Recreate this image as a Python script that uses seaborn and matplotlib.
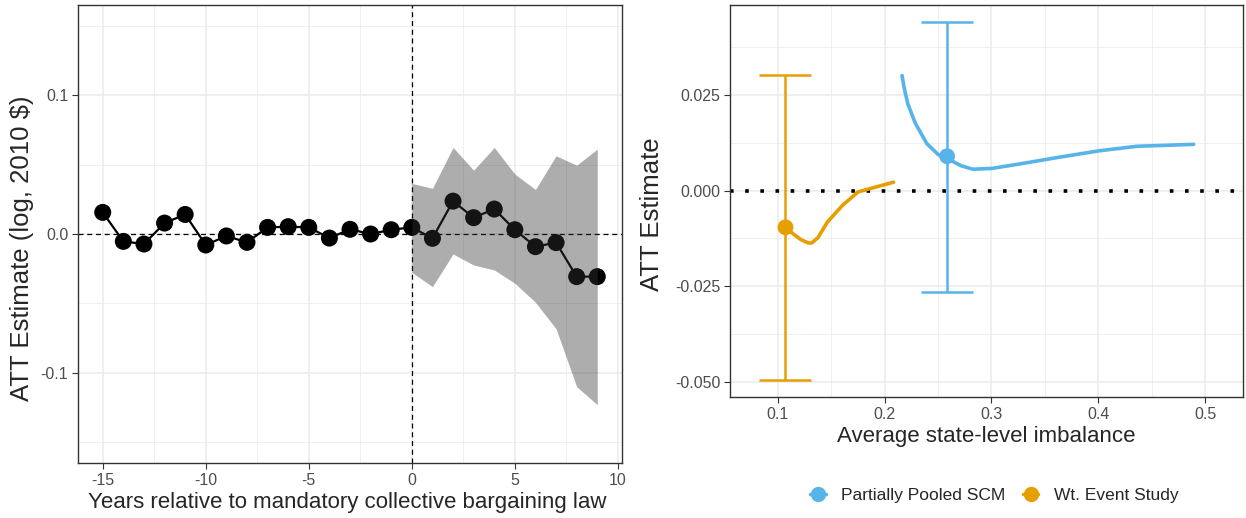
import matplotlib
matplotlib.use("Agg")
import matplotlib.pyplot as plt
from matplotlib.lines import Line2D
from matplotlib.ticker import FixedLocator, FuncFormatter
import seaborn as sns
import pandas as pd

# left panel: event study
years = list(range(-15, 10))
att = [0.0156, -0.0053, -0.0072, 0.0079, 0.0141, -0.0079, -0.0014, -0.0060,
       0.0048, 0.0053, 0.0048, -0.0029, 0.0034, 0.0000, 0.0031, 0.0048,
       -0.0031, 0.0237, 0.0118, 0.0180, 0.0031, -0.0091, -0.0062, -0.0307, -0.0307]
band_years = list(range(0, 10))
band_hi = [0.0365, 0.0329, 0.0624, 0.0460, 0.0624, 0.0432, 0.0321, 0.0564, 0.0496, 0.0612]
band_lo = [-0.0276, -0.0379, -0.0144, -0.0223, -0.0259, -0.0355, -0.0492, -0.0683, -0.1100, -0.1230]

# right panel: imbalance vs estimate
scm_x = [0.2163, 0.2181, 0.2216, 0.2288, 0.2395, 0.2503, 0.2585, 0.2717, 0.2825,
         0.3003, 0.3290, 0.3648, 0.4004, 0.4362, 0.4893]
scm_y = [0.0301, 0.0272, 0.0228, 0.0176, 0.0123, 0.0094, 0.0084, 0.0065, 0.0056,
         0.0058, 0.0071, 0.0088, 0.0104, 0.0116, 0.0121]
es_x = [0.1072, 0.1143, 0.1215, 0.1286, 0.1318, 0.1376, 0.1465, 0.1608, 0.1751, 0.1859, 0.2084]
es_y = [-0.0096, -0.0113, -0.0128, -0.0137, -0.0137, -0.0123, -0.0082, -0.0038, -0.00035, 0.0005, 0.0022]
methods = ["Partially Pooled SCM", "Wt. Event Study"]
est_x = [0.2585, 0.1072]
est_y = [0.0090, -0.0096]
ci_lo = [-0.0264, -0.0495]
ci_hi = [0.0441, 0.0303]
colors = ["#56B4E9", "#E69F00"]

sns.set_style("whitegrid")
plt.rcParams["font.family"] = ["Liberation Sans", "DejaVu Sans"]
plt.rcParams["axes.unicode_minus"] = False

fig = plt.figure(figsize=(12.46, 5.18), dpi=100)
ax1 = fig.add_axes([0.0626, 0.1062, 0.4366, 0.884])
ax2 = fig.add_axes([0.5859, 0.2336, 0.4117, 0.757])

def style(ax):
    for s in ax.spines.values():
        s.set_color("#333333")
        s.set_linewidth(1.0)
    ax.tick_params(axis="both", which="major", length=4, width=0.8, color="#333333",
                   labelsize=11.5, labelcolor="#4D4D4D", bottom=True, left=True, pad=3)
    ax.tick_params(axis="both", which="minor", length=0)
    ax.grid(True, which="major", color="#EBEBEB", linewidth=1.1)
    ax.grid(True, which="minor", color="#EBEBEB", linewidth=0.55)
    ax.set_axisbelow(True)

# left
df_es = pd.DataFrame({"year": years, "att": att})
ax1.axhline(0, color="black", linestyle=(0, (4, 3)), linewidth=0.9, zorder=2)
ax1.axvline(0, color="black", linestyle=(0, (4, 3)), linewidth=0.9, zorder=2)
sns.lineplot(data=df_es, x="year", y="att", color="black", linewidth=1.6, ax=ax1, zorder=3)
sns.scatterplot(data=df_es, x="year", y="att", color="black", s=150, edgecolor="none", ax=ax1, zorder=4)
ax1.fill_between(band_years, band_lo, band_hi, color="#333333", alpha=0.4, linewidth=0, zorder=5)
ax1.set_xlim(-16.2, 10.2)
ax1.set_ylim(-0.165, 0.165)
ax1.xaxis.set_major_locator(FixedLocator([-15, -10, -5, 0, 5, 10]))
ax1.xaxis.set_minor_locator(FixedLocator([-12.5, -7.5, -2.5, 2.5, 7.5]))
ax1.yaxis.set_major_locator(FixedLocator([-0.1, 0.0, 0.1]))
ax1.yaxis.set_minor_locator(FixedLocator([-0.15, -0.05, 0.05, 0.15]))
ax1.xaxis.set_major_formatter(FuncFormatter(lambda v, p: ("%d" % v)))
ax1.yaxis.set_major_formatter(FuncFormatter(lambda v, p: ("%.1f" % v)))
ax1.set_xlabel("Years relative to mandatory collective bargaining law", fontsize=16)
ax1.set_ylabel("ATT Estimate (log, 2010 $)", fontsize=18.5)
ax1.xaxis.label.set_va("center")
ax1.yaxis.label.set_va("center")
ax1.xaxis.set_label_coords(0.495, -0.0873)
ax1.yaxis.set_label_coords(-0.103, 0.47)
style(ax1)

# right
ax2.axhline(0, color="black", linestyle=(0, (1, 3.2)), linewidth=2.6, zorder=2)
df_scm = pd.DataFrame({"x": scm_x, "y": scm_y})
df_wes = pd.DataFrame({"x": es_x, "y": es_y})
sns.lineplot(data=df_scm, x="x", y="y", color=colors[0], linewidth=2.6, sort=False, ax=ax2, zorder=3)
sns.lineplot(data=df_wes, x="x", y="y", color=colors[1], linewidth=2.6, sort=False, ax=ax2, zorder=3)
for i in range(2):
    ax2.errorbar(est_x[i], est_y[i],
                 yerr=[[est_y[i] - ci_lo[i]], [ci_hi[i] - est_y[i]]],
                 fmt="none", ecolor=colors[i], elinewidth=1.8, capsize=18.5, capthick=1.8, zorder=4)
df_pt = pd.DataFrame({"x": est_x, "y": est_y, "method": methods})
sns.scatterplot(data=df_pt, x="x", y="y", hue="method", palette=colors, s=130,
                edgecolor="none", legend=False, ax=ax2, zorder=5)
ax2.set_xlim(0.0553, 0.5355)
ax2.set_ylim(-0.054, 0.0486)
ax2.xaxis.set_major_locator(FixedLocator([0.1, 0.2, 0.3, 0.4, 0.5]))
ax2.xaxis.set_minor_locator(FixedLocator([0.15, 0.25, 0.35, 0.45]))
ax2.yaxis.set_major_locator(FixedLocator([-0.05, -0.025, 0.0, 0.025]))
ax2.yaxis.set_minor_locator(FixedLocator([-0.0375, -0.0125, 0.0125, 0.0375]))
ax2.xaxis.set_major_formatter(FuncFormatter(lambda v, p: ("%.1f" % v)))
ax2.yaxis.set_major_formatter(FuncFormatter(lambda v, p: ("%.3f" % v)))
ax2.set_xlabel("Average state-level imbalance", fontsize=16)
ax2.set_ylabel("ATT Estimate", fontsize=18.5)
ax2.xaxis.label.set_va("center")
ax2.yaxis.label.set_va("center")
ax2.xaxis.set_label_coords(0.5, -0.102)
ax2.yaxis.set_label_coords(-0.152, 0.465)
style(ax2)

handles = [Line2D([], [], color=c, marker="o", markersize=10, linewidth=2.5, label=m)
           for c, m in zip(colors, methods)]
fig.legend(handles=handles, loc="center", bbox_to_anchor=(0.798, 0.044), ncol=2,
           frameon=False, fontsize=12.5, handlelength=0.9, handletextpad=0.9, columnspacing=1.0)

fig.savefig("out.png", dpi=100)
